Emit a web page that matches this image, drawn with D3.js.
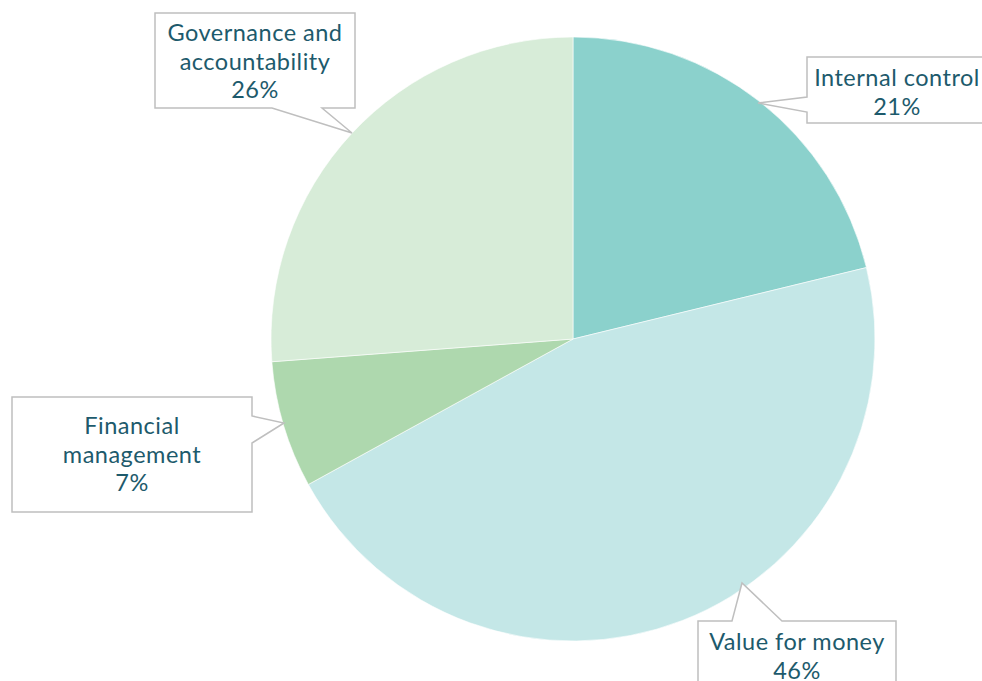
<!DOCTYPE html>
<html>
<head>
<meta charset="utf-8">
<script src="https://cdn.jsdelivr.net/npm/d3@7"></script>
<style>
  html, body { margin: 0; padding: 0; background: #fff; }
  svg { display: block; }
  .callout text { font-family: Lato, "Open Sans", sans-serif; font-size: 23.5px; letter-spacing: 0.5px; fill: #1d5a6c; }
</style>
</head>
<body>
<div id="chart"></div>
<script>
// data
var categories = ["Internal control", "Value for money", "Financial management", "Governance and accountability"];
var values = [21.2, 45.8, 6.8, 26.2];
var pctLabels = ["21%", "46%", "7%", "26%"];
var labelLines = [["Internal control"], ["Value for money"], ["Financial", "management"], ["Governance and", "accountability"]];
var colors = ["#8bd1cc", "#c4e7e7", "#aed8ae", "#d7ecd8"];

var width = 982, height = 681;
var cx = 573, cy = 339, radius = 302;

// callout boxes: box x,y,w,h; pointer base side + range; tip; text anchor
var callouts = [
  {box: [807, 57, 200, 66], side: "left", base: [97, 112], tip: [758, 103], tx: 897, ty: 86},
  {box: [698, 621, 198, 90], side: "top", base: [732, 782], tip: [742, 583], tx: 797, ty: 650},
  {box: [12, 397, 240, 115], side: "right", base: [416, 443], tip: [284, 423], tx: 132, ty: 434},
  {box: [155, 13, 200, 95], side: "bottom", base: [272, 322], tip: [352, 133], tx: 255, ty: 41}
];

var svg = d3.select("#chart")
  .append("svg")
    .attr("width", width)
    .attr("height", height);

var pie = d3.pie().sort(null).value(function(d) { return d; });
var arc = d3.arc().innerRadius(0).outerRadius(radius);

var g = svg.append("g")
    .attr("transform", "translate(" + cx + "," + cy + ")");

g.selectAll("path")
  .data(pie(values))
  .enter().append("path")
    .attr("d", arc)
    .attr("fill", function(d, i) { return colors[i]; })
    .attr("stroke", "#ffffff")
    .attr("stroke-width", 0.6);

function calloutPath(c) {
  var x = c.box[0], y = c.box[1], w = c.box[2], h = c.box[3];
  var p = d3.path();
  p.moveTo(x, y);
  if (c.side === "top") {
    p.lineTo(c.base[0], y); p.lineTo(c.tip[0], c.tip[1]); p.lineTo(c.base[1], y);
  }
  p.lineTo(x + w, y);
  if (c.side === "right") {
    p.lineTo(x + w, c.base[0]); p.lineTo(c.tip[0], c.tip[1]); p.lineTo(x + w, c.base[1]);
  }
  p.lineTo(x + w, y + h);
  if (c.side === "bottom") {
    p.lineTo(c.base[1], y + h); p.lineTo(c.tip[0], c.tip[1]); p.lineTo(c.base[0], y + h);
  }
  p.lineTo(x, y + h);
  if (c.side === "left") {
    p.lineTo(x, c.base[1]); p.lineTo(c.tip[0], c.tip[1]); p.lineTo(x, c.base[0]);
  }
  p.closePath();
  return p.toString();
}

var lineH = 28.5;

var co = svg.selectAll(".callout")
  .data(categories)
  .enter().append("g")
    .attr("class", "callout");

co.append("path")
    .attr("d", function(d, i) { return calloutPath(callouts[i]); })
    .attr("fill", "#ffffff")
    .attr("stroke", "#bfbfbf")
    .attr("stroke-width", 1.5);

co.each(function(d, i) {
  var c = callouts[i];
  var lines = labelLines[i].concat([pctLabels[i]]);
  var t = d3.select(this).append("text")
      .attr("text-anchor", "middle");
  lines.forEach(function(s, k) {
    t.append("tspan")
        .attr("x", c.tx)
        .attr("y", c.ty + k * lineH)
        .text(s);
  });
});
</script>
</body>
</html>
